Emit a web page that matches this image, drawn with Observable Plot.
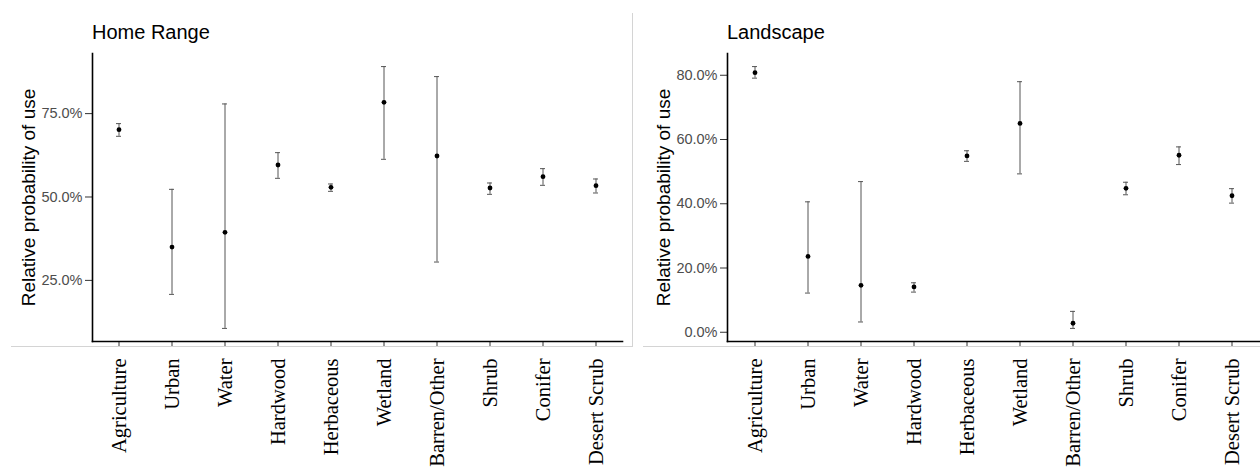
<!DOCTYPE html>
<html>
<head>
<meta charset="utf-8">
<script src="https://cdn.jsdelivr.net/npm/d3@7"></script>
<script src="https://cdn.jsdelivr.net/npm/@observablehq/plot@0.6"></script>
<style>
  html, body { margin: 0; padding: 0; background: #fff; }
  #root { position: relative; width: 1260px; height: 468px; overflow: hidden; font-family: "Liberation Sans", Arial, sans-serif; }
  .panel { position: absolute; top: 0; height: 468px; }
  .title { height: 45px; position: relative; }
  .title span { position: absolute; top: 22px; font-size: 20px; line-height: 20px; color: #000; white-space: nowrap; }
  .panel svg { display: block; }
  .hline, .vline { position: absolute; background: #d4d4d4; }
</style>
</head>
<body>
<div id="root"></div>
<script>
// Land-cover categories shared by both panels
const categories = ["Agriculture", "Urban", "Water", "Hardwood", "Herbaceous", "Wetland", "Barren/Other", "Shrub", "Conifer", "Desert Scrub"];

// Home range scale: estimate with lower / upper interval bounds
const homeEstimate = [0.702, 0.350, 0.394, 0.596, 0.529, 0.784, 0.623, 0.527, 0.561, 0.534];
const homeLower    = [0.682, 0.208, 0.106, 0.556, 0.517, 0.613, 0.305, 0.508, 0.535, 0.512];
const homeUpper    = [0.720, 0.523, 0.779, 0.633, 0.539, 0.891, 0.861, 0.542, 0.585, 0.554];

// Landscape scale: estimate with lower / upper interval bounds
const landEstimate = [0.808, 0.236, 0.146, 0.141, 0.549, 0.650, 0.028, 0.448, 0.551, 0.425];
const landLower    = [0.791, 0.122, 0.032, 0.125, 0.532, 0.493, 0.012, 0.428, 0.522, 0.402];
const landUpper    = [0.827, 0.406, 0.469, 0.154, 0.565, 0.780, 0.065, 0.467, 0.577, 0.447];

// y-axis tick values
const homeTicks = [0.25, 0.50, 0.75];
const landTicks = [0, 0.2, 0.4, 0.6, 0.8];

const yLabel = "Relative probability of use";

function rows(est, lo, hi) {
  return categories.map((c, i) => ({cat: c, est: est[i], lo: lo[i], hi: hi[i]}));
}

// Expand the value range by 5% on each side
function expandedDomain(lo, hi) {
  const a = d3.min(lo), b = d3.max(hi), pad = (b - a) * 0.05;
  return [a - pad, b + pad];
}

function panel({data, ticks, width, marginLeft, marginRight, paddingOuter, domain}) {
  return Plot.plot({
    width,
    height: 423,
    marginTop: 8,
    marginBottom: 127,
    marginLeft,
    marginRight,
    style: {fontFamily: "'Liberation Sans', Arial, sans-serif", fontSize: "14.5px", background: "white", overflow: "visible"},
    x: {type: "band", domain: categories, paddingInner: 0.9, paddingOuter},
    y: {domain},
    marks: [
      Plot.axisY({ticks, tickFormat: d3.format(".1%"), tickSize: 7, tickPadding: 3, stroke: "#333", fill: "#4d4d4d", label: null, fontSize: 14.5}),
      Plot.axisX({tickSize: 5, tickPadding: 12, tickRotate: -90, stroke: "#333", fill: "#000", label: null,
                  fontFamily: "'Liberation Serif', 'Times New Roman', serif", fontSize: 20.5}),
      Plot.frame({anchor: "left", stroke: "#000", strokeWidth: 1.6}),
      Plot.frame({anchor: "bottom", stroke: "#000", strokeWidth: 1.6}),
      Plot.text([yLabel], {frameAnchor: "left", text: d => d, rotate: -90, dx: -64, textAnchor: "middle",
                           lineAnchor: "middle", fontSize: 19, fill: "#000"}),
      Plot.ruleX(data, {x: "cat", y1: "lo", y2: "hi", stroke: "#555", strokeWidth: 1}),
      Plot.tickY(data, {x: "cat", y: "lo", stroke: "#555", strokeWidth: 1}),
      Plot.tickY(data, {x: "cat", y: "hi", stroke: "#555", strokeWidth: 1}),
      Plot.dot(data, {x: "cat", y: "est", r: 2.4, fill: "#000", stroke: null})
    ]
  });
}

const root = document.getElementById("root");

function addPanel(left, width, title, titleX, svg) {
  const div = document.createElement("div");
  div.className = "panel";
  div.style.left = left + "px";
  div.style.width = width + "px";
  const t = document.createElement("div");
  t.className = "title";
  const s = document.createElement("span");
  s.textContent = title;
  s.style.left = titleX + "px";
  t.appendChild(s);
  div.appendChild(t);
  div.appendChild(svg);
  root.appendChild(div);
}

addPanel(0, 632, "Home Range", 92, panel({
  data: rows(homeEstimate, homeLower, homeUpper),
  ticks: homeTicks, width: 632, marginLeft: 92, marginRight: 10, paddingOuter: 0.44,
  domain: expandedDomain(homeLower, homeUpper)
}));

addPanel(632, 628, "Landscape", 95, panel({
  data: rows(landEstimate, landLower, landUpper),
  ticks: landTicks, width: 628, marginLeft: 95, marginRight: 0, paddingOuter: 0.41,
  domain: expandedDomain(landLower, landUpper)
}));

// light panel borders
function line(cls, l, t, w, h) {
  const d = document.createElement("div");
  d.className = cls;
  Object.assign(d.style, {left: l + "px", top: t + "px", width: w + "px", height: h + "px"});
  root.appendChild(d);
}
line("hline", 11, 346, 622, 1);
line("vline", 632, 13, 1, 334);
line("hline", 643, 346, 617, 1);
</script>
</body>
</html>
